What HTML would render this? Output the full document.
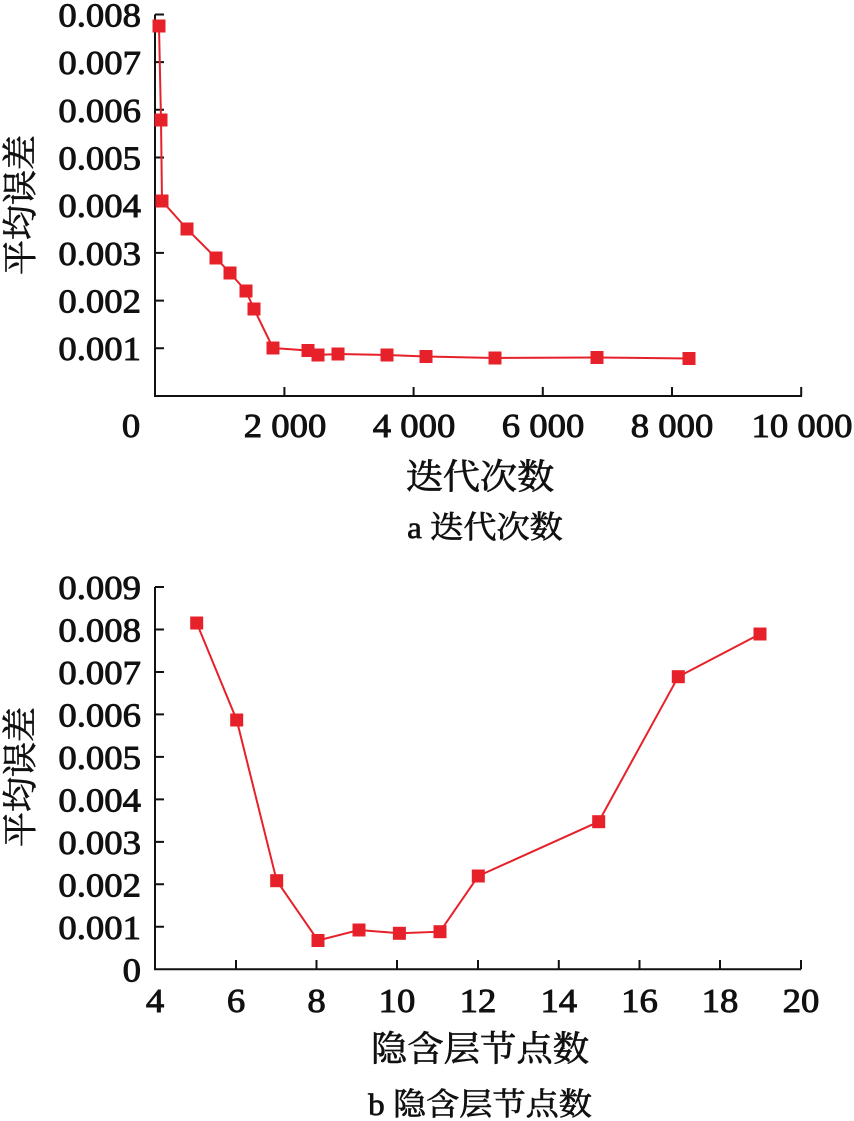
<!DOCTYPE html>
<html><head><meta charset="utf-8"><style>
html,body{margin:0;padding:0;background:#fff;}
svg{display:block;}
.t{font-family:"Liberation Serif","Noto Serif CJK SC",serif;font-size:34px;fill:#111;stroke:#111;stroke-width:0.9;}
.c{font-family:"Liberation Serif","Noto Serif CJK SC",serif;fill:#111;stroke:#111;stroke-width:0.7;}
</style></head><body>
<svg width="854" height="1121" viewBox="0 0 854 1121" xmlns="http://www.w3.org/2000/svg">
<rect width="854" height="1121" fill="#fff"/>
<!-- Top chart axes -->
<g stroke="#111" stroke-width="2" fill="none">
<path d="M155 14.5 V396 H802"/>
<path d="M155 14.5 H164 M155 62.1 H164 M155 109.8 H164 M155 157.5 H164 M155 205.2 H164 M155 252.9 H164 M155 300.6 H164 M155 348.3 H164"/>
<path d="M284.4 396 V387 M413.6 396 V387 M542.8 396 V387 M672 396 V387 M801.2 396 V387"/>
</g>
<g class="t" text-anchor="end">
<text transform="translate(141,26.5) scale(1.08 1)">0.008</text>
<text transform="translate(141,74) scale(1.08 1)">0.007</text>
<text transform="translate(141,122) scale(1.08 1)">0.006</text>
<text transform="translate(141,169.5) scale(1.08 1)">0.005</text>
<text transform="translate(141,217) scale(1.08 1)">0.004</text>
<text transform="translate(141,265) scale(1.08 1)">0.003</text>
<text transform="translate(141,312.6) scale(1.08 1)">0.002</text>
<text transform="translate(141,360) scale(1.08 1)">0.001</text>
</g>
<g class="t" text-anchor="middle">
<text transform="translate(131,437) scale(1.08 1)">0</text>
<text transform="translate(285,437) scale(1.08 1)">2 000</text>
<text transform="translate(414,437) scale(1.08 1)">4 000</text>
<text transform="translate(543,437) scale(1.08 1)">6 000</text>
<text transform="translate(672,437) scale(1.08 1)">8 000</text>
<text transform="translate(802,437) scale(1.08 1)">10 000</text>
</g>
<text class="c" font-size="35" text-anchor="middle" transform="translate(480,489) scale(1.06 1)">迭代次数</text>
<text class="c" font-size="31" text-anchor="middle" transform="translate(485,538) scale(1.07 1)">a 迭代次数</text>
<text class="c" font-size="35" text-anchor="middle" dominant-baseline="central" transform="translate(21,205) rotate(-90)">平均误差</text>
<!-- Top series -->
<polyline fill="none" stroke="#e62129" stroke-width="2" points="159,26 161,120 162,201 187,229 216,258 230,273 246,291 254,309 273,348 308,350.5 318,355 338,354 387,355 426,356.5 495,358 597,357.5 689,358.5"/>
<g fill="#e62129">
<rect x="152.5" y="19.5" width="13" height="13"/>
<rect x="154.5" y="113.5" width="13" height="13"/>
<rect x="155.5" y="194.5" width="13" height="13"/>
<rect x="180.5" y="222.5" width="13" height="13"/>
<rect x="209.5" y="251.5" width="13" height="13"/>
<rect x="223.5" y="266.5" width="13" height="13"/>
<rect x="239.5" y="284.5" width="13" height="13"/>
<rect x="247.5" y="302.5" width="13" height="13"/>
<rect x="266.5" y="341.5" width="13" height="13"/>
<rect x="301.5" y="344" width="13" height="13"/>
<rect x="311.5" y="348.5" width="13" height="13"/>
<rect x="331.5" y="347.5" width="13" height="13"/>
<rect x="380.5" y="348.5" width="13" height="13"/>
<rect x="419.5" y="350" width="13" height="13"/>
<rect x="488.5" y="351.5" width="13" height="13"/>
<rect x="590.5" y="351" width="13" height="13"/>
<rect x="682.5" y="352" width="13" height="13"/>
</g>
<!-- Bottom chart axes -->
<g stroke="#111" stroke-width="2" fill="none">
<path d="M155 587 V969.3 H801"/>
<path d="M155 587 H164 M155 629.5 H164 M155 672 H164 M155 714.4 H164 M155 756.9 H164 M155 799.4 H164 M155 841.9 H164 M155 884.3 H164 M155 926.8 H164"/>
<path d="M236 969.3 V960 M316.5 969.3 V960 M397 969.3 V960 M478 969.3 V960 M558.8 969.3 V960 M639.5 969.3 V960 M720 969.3 V960 M801 969.3 V960"/>
</g>
<g class="t" text-anchor="end">
<text transform="translate(141,599) scale(1.08 1)">0.009</text>
<text transform="translate(141,641.5) scale(1.08 1)">0.008</text>
<text transform="translate(141,684) scale(1.08 1)">0.007</text>
<text transform="translate(141,726.4) scale(1.08 1)">0.006</text>
<text transform="translate(141,768.9) scale(1.08 1)">0.005</text>
<text transform="translate(141,811.4) scale(1.08 1)">0.004</text>
<text transform="translate(141,853.9) scale(1.08 1)">0.003</text>
<text transform="translate(141,896.3) scale(1.08 1)">0.002</text>
<text transform="translate(141,938.8) scale(1.08 1)">0.001</text>
<text transform="translate(141,981.3) scale(1.08 1)">0</text>
</g>
<g class="t" text-anchor="middle">
<text transform="translate(155,1012) scale(1.08 1)">4</text>
<text transform="translate(236,1012) scale(1.08 1)">6</text>
<text transform="translate(316.5,1012) scale(1.08 1)">8</text>
<text transform="translate(397,1012) scale(1.08 1)">10</text>
<text transform="translate(478,1012) scale(1.08 1)">12</text>
<text transform="translate(558.8,1012) scale(1.08 1)">14</text>
<text transform="translate(639.5,1012) scale(1.08 1)">16</text>
<text transform="translate(720,1012) scale(1.08 1)">18</text>
<text transform="translate(801,1012) scale(1.08 1)">20</text>
</g>
<text class="c" font-size="35" text-anchor="middle" transform="translate(480,1061) scale(1.04 1)">隐含层节点数</text>
<text class="c" font-size="31" text-anchor="middle" transform="translate(480,1115) scale(1.07 1)">b 隐含层节点数</text>
<text class="c" font-size="35" text-anchor="middle" dominant-baseline="central" transform="translate(21,777) rotate(-90)">平均误差</text>
<!-- Bottom series -->
<polyline fill="none" stroke="#e62129" stroke-width="2" points="196.7,623 236.7,720 276.7,880.7 318,940.5 359,930 399.4,933.3 440,931.7 478.3,876 598.7,821.7 678.3,676.7 760,634"/>
<g fill="#e62129">
<rect x="190.2" y="616.5" width="13" height="13"/>
<rect x="230.2" y="713.5" width="13" height="13"/>
<rect x="270.2" y="874.2" width="13" height="13"/>
<rect x="311.5" y="934" width="13" height="13"/>
<rect x="352.5" y="923.5" width="13" height="13"/>
<rect x="392.9" y="926.8" width="13" height="13"/>
<rect x="433.5" y="925.2" width="13" height="13"/>
<rect x="471.8" y="869.5" width="13" height="13"/>
<rect x="592.2" y="815.2" width="13" height="13"/>
<rect x="671.8" y="670.2" width="13" height="13"/>
<rect x="753.5" y="627.5" width="13" height="13"/>
</g>
</svg>
</body></html>
